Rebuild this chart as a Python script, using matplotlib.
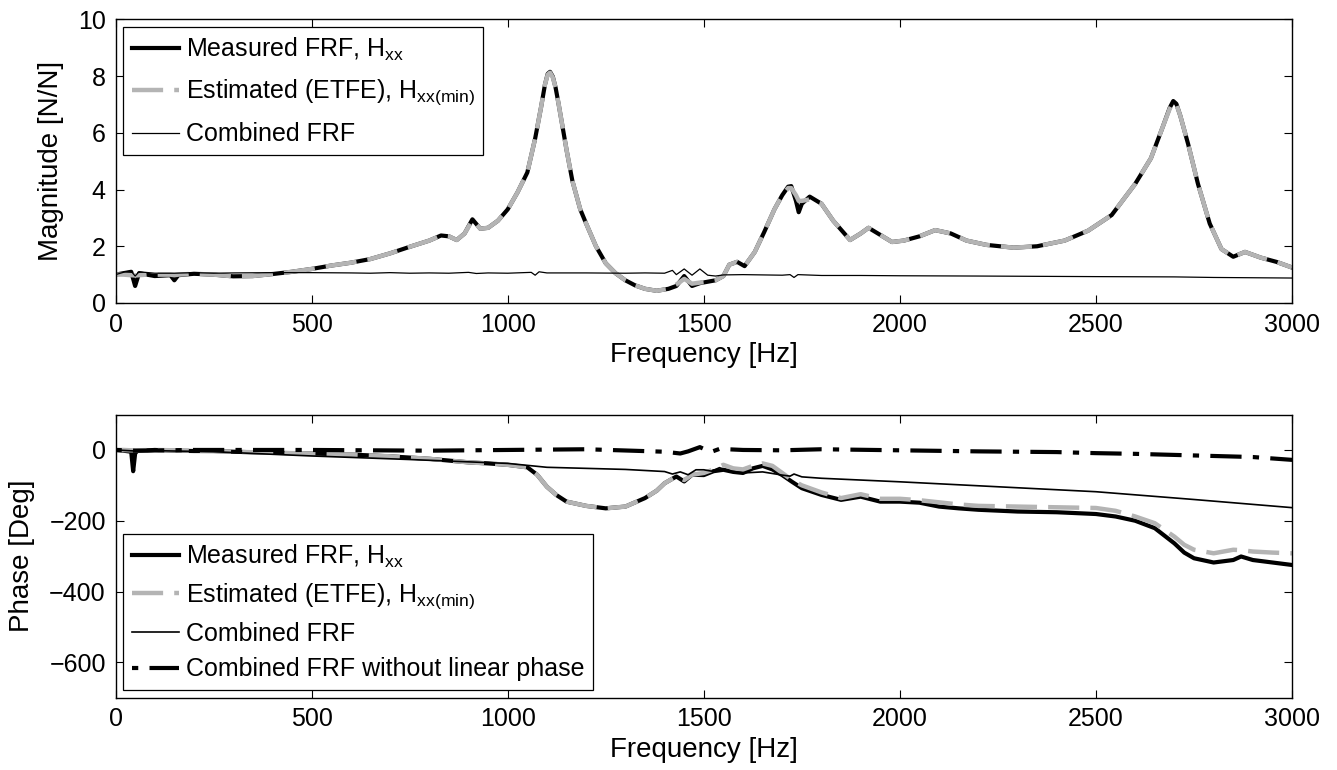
import matplotlib
matplotlib.use('Agg')
import matplotlib.pyplot as plt

plt.rcParams['font.family'] = ['Liberation Sans', 'DejaVu Sans']
plt.rcParams['mathtext.fontset'] = 'custom'
plt.rcParams['mathtext.rm'] = 'Liberation Sans'
plt.rcParams['axes.unicode_minus'] = True

# ---- magnitude data ----
f_mag = [0, 20, 40, 50, 60, 80, 100, 140, 150, 160, 200, 250, 300, 350, 400, 450,
         500, 550, 600, 650, 700, 750, 800, 830, 850, 870, 890, 910, 930, 950, 975,
         1000, 1025, 1050, 1070, 1085, 1095, 1102, 1108, 1115, 1122, 1130, 1150,
         1165, 1185, 1200, 1225, 1250, 1275, 1300, 1325, 1350, 1380, 1410, 1430,
         1450, 1470, 1490, 1510, 1530, 1550, 1565, 1585, 1604, 1630, 1654, 1680,
         1700, 1715, 1723, 1735, 1742, 1750, 1770, 1800, 1830, 1873, 1900, 1920,
         1950, 1980, 2010, 2050, 2090, 2130, 2170, 2220, 2290, 2350, 2420, 2480,
         2540, 2600, 2640, 2670, 2688, 2697, 2705, 2715, 2735, 2760, 2790, 2820,
         2850, 2880, 2920, 2960, 3000]
mag_est = [1.0, 1.0, 0.98, 0.97, 0.98, 1.0, 1.0, 1.0, 0.98, 1.0, 1.03, 1.0, 0.94,
           0.95, 1.02, 1.1, 1.2, 1.32, 1.42, 1.55, 1.75, 1.98, 2.2, 2.38, 2.35, 2.22,
           2.45, 2.92, 2.62, 2.65, 2.9, 3.3, 3.9, 4.6, 5.8, 6.9, 7.7, 8.05, 8.12,
           7.95, 7.6, 7.0, 5.4, 4.3, 3.3, 2.8, 2.0, 1.4, 1.05, 0.8, 0.62, 0.5, 0.43,
           0.5, 0.65, 0.85, 0.68, 0.72, 0.75, 0.8, 0.95, 1.35, 1.45, 1.3, 1.8, 2.5,
           3.3, 3.8, 4.05, 4.05, 3.8, 3.6, 3.6, 3.65, 3.5, 2.9, 2.22, 2.45, 2.65, 2.4,
           2.15, 2.2, 2.35, 2.57, 2.45, 2.2, 2.05, 1.95, 2.0, 2.2, 2.55, 3.1, 4.2,
           5.1, 6.2, 6.85, 7.08, 7.0, 6.6, 5.6, 4.2, 2.8, 1.9, 1.63, 1.8, 1.6, 1.45,
           1.25]
mag_meas = [1.0, 1.05, 1.1, 0.6, 1.05, 1.0, 0.95, 0.98, 0.8, 0.98, 1.03, 1.0, 0.94,
            0.95, 1.02, 1.1, 1.2, 1.32, 1.42, 1.55, 1.75, 1.98, 2.2, 2.38, 2.35, 2.22,
            2.45, 2.95, 2.62, 2.65, 2.9, 3.3, 3.9, 4.6, 5.8, 6.9, 7.7, 8.08, 8.15,
            7.98, 7.6, 7.0, 5.4, 4.3, 3.3, 2.8, 2.0, 1.4, 1.05, 0.8, 0.62, 0.5, 0.43,
            0.5, 0.6, 0.95, 0.6, 0.7, 0.75, 0.8, 0.95, 1.35, 1.45, 1.3, 1.8, 2.5, 3.3,
            3.8, 4.1, 4.12, 3.6, 3.2, 3.5, 3.75, 3.5, 2.9, 2.22, 2.45, 2.65, 2.4,
            2.15, 2.2, 2.35, 2.57, 2.45, 2.2, 2.05, 1.95, 2.0, 2.2, 2.55, 3.1, 4.2,
            5.1, 6.2, 6.88, 7.12, 7.02, 6.6, 5.6, 4.2, 2.8, 1.9, 1.63, 1.8, 1.6, 1.45,
            1.25]

f_comb_mag = [0, 25, 40, 50, 60, 100, 150, 200, 250, 300, 400, 500, 600, 650, 700,
              750, 800, 850, 900, 920, 950, 1000, 1060, 1070, 1080, 1100, 1200, 1300,
              1350, 1400, 1420, 1430, 1450, 1470, 1490, 1510, 1530, 1550, 1600, 1700,
              1720, 1730, 1740, 1800, 1900, 2000, 2200, 2500, 2700, 2800, 3000]
mag_comb = [1.0, 1.1, 1.12, 0.95, 1.1, 1.05, 1.05, 1.07, 1.05, 1.06, 1.07, 1.07,
            1.06, 1.05, 1.07, 1.05, 1.06, 1.05, 1.08, 1.04, 1.06, 1.05, 1.08, 0.98,
            1.1, 1.06, 1.06, 1.05, 1.06, 1.05, 1.15, 1.0, 1.2, 0.98, 1.2, 0.98, 0.95,
            0.99, 1.0, 0.98, 1.0, 0.9, 1.0, 0.97, 0.97, 0.96, 0.95, 0.93, 0.92, 0.9,
            0.88]

# ---- phase data ----
f_ph = [0, 20, 40, 45, 50, 55, 100, 150, 200, 250, 300, 400, 500, 600, 700, 800,
        850, 900, 950, 1000, 1050, 1075, 1100, 1125, 1150, 1200, 1250, 1300, 1350,
        1380, 1400, 1430, 1450, 1470, 1500, 1525, 1550, 1575, 1600, 1625, 1650,
        1675, 1700, 1725, 1750, 1800, 1850, 1900, 1950, 2000, 2050, 2100, 2150, 2200,
        2300, 2400, 2500, 2550, 2600, 2650, 2700, 2725, 2750, 2800, 2850, 2870, 2900,
        2950, 3000]
ph_meas = [0, -2, -5, -60, -10, -3, 0, -2, -3, -3, -5, -8, -10, -13, -18, -25, -30,
           -35, -38, -42, -49, -70, -104, -128, -146, -158, -165, -160, -136, -115,
           -94, -75, -89, -70, -71, -60, -56, -62, -65, -52, -45, -55, -71, -90, -108,
           -127, -141, -132, -146, -146, -149, -160, -165, -169, -174, -176, -181,
           -188, -200, -221, -264, -290, -306, -318, -311, -301, -311, -318, -325]
ph_est = [0, 0, -1, -1, -1, -1, 0, -1, -2, -3, -5, -8, -10, -13, -18, -25, -30, -35,
          -38, -42, -49, -70, -104, -128, -146, -158, -165, -160, -136, -115, -94,
          -75, -85, -70, -65, -55, -42, -52, -55, -45, -38, -45, -65, -85, -100, -120,
          -136, -125, -138, -138, -142, -148, -154, -158, -160, -162, -164, -172,
          -188, -207, -245, -268, -282, -292, -282, -283, -287, -290, -292]

f_comb_ph = [0, 50, 100, 250, 500, 750, 1000, 1100, 1200, 1300, 1400, 1420, 1440,
             1460, 1480, 1500, 1520, 1540, 1560, 1600, 1650, 1700, 1720, 1730, 1750,
             1800, 1900, 2000, 2250, 2500, 2750, 3000]
ph_comb = [0, -3, -2, -5, -17, -27, -38, -49, -52, -55, -61, -68, -62, -70, -56, -56,
           -60, -50, -58, -65, -62, -71, -74, -68, -76, -80, -85, -90, -104, -118,
           -140, -163]

f_nolin = [0, 50, 200, 500, 800, 1000, 1200, 1400, 1440, 1460, 1490, 1510, 1520,
           1540, 1600, 1700, 1800, 2000, 2200, 2400, 2500, 2600, 2800, 2900, 3000]
ph_nolin = [0, -2, 0, 0, -2, 0, 2, -5, -10, -4, 8, -2, -5, 3, 0, -1, 2, -1, -4, -6,
            -9, -11, -17, -20, -28]

GRAY = '#b4b4b4'
lbl_meas = r'Measured FRF, $\mathregular{H_{xx}}$'
lbl_est = r'Estimated (ETFE), $\mathregular{H_{xx(min)}}$'


def style_axes(ax):
    ax.tick_params(direction='in', top=True, right=True, length=6, width=0.8,
                   labelsize=18, pad=7)
    for sp in ax.spines.values():
        sp.set_linewidth(1.0)


def add_legend(ax, loc, spacing):
    leg = ax.legend(loc=loc, fontsize=18, fancybox=False, framealpha=1,
                    edgecolor='black', handlelength=1.9, handletextpad=0.25,
                    borderpad=0.35, labelspacing=spacing, borderaxespad=0.3)
    leg.get_frame().set_linewidth(0.9)
    return leg


fig = plt.figure(figsize=(13.37, 7.7), dpi=100)
ax1 = fig.add_axes([0.0864, 0.6065, 0.880, 0.3684])
ax2 = fig.add_axes([0.0864, 0.0939, 0.880, 0.3677])

# Magnitude
ax1.plot(f_mag, mag_meas, color='black', lw=3.0, label=lbl_meas)
ax1.plot(f_mag, mag_est, color=GRAY, lw=3.2, dashes=(7, 2.5), label=lbl_est)
ax1.plot(f_comb_mag, mag_comb, color='black', lw=0.9, label='Combined FRF')
ax1.set_xlim(0, 3000)
ax1.set_ylim(0, 10)
ax1.set_xticks([0, 500, 1000, 1500, 2000, 2500, 3000])
ax1.set_yticks([0, 2, 4, 6, 8, 10])
ax1.set_xlabel('Frequency [Hz]', fontsize=20, labelpad=4)
ax1.set_ylabel('Magnitude [N/N]', fontsize=20, labelpad=10)
style_axes(ax1)
add_legend(ax1, 'upper left', 0.6)

# Phase
ax2.plot(f_ph, ph_meas, color='black', lw=3.0, label=lbl_meas)
ax2.plot(f_ph, ph_est, color=GRAY, lw=3.2, dashes=(7, 2.5), label=lbl_est)
ax2.plot(f_comb_ph, ph_comb, color='black', lw=1.2, label='Combined FRF')
ax2.plot(f_nolin, ph_nolin, color='black', lw=3.0, dashes=(1.5, 2.7, 7.5, 2.7),
         label='Combined FRF without linear phase')
ax2.set_xlim(0, 3000)
ax2.set_ylim(-700, 100)
ax2.set_xticks([0, 500, 1000, 1500, 2000, 2500, 3000])
ax2.set_yticks([-600, -400, -200, 0])
ax2.set_xlabel('Frequency [Hz]', fontsize=20, labelpad=4)
ax2.set_ylabel('Phase [Deg]', fontsize=20, labelpad=10)
style_axes(ax2)
add_legend(ax2, 'lower left', 0.45)

fig.savefig('out.png', dpi=100)
